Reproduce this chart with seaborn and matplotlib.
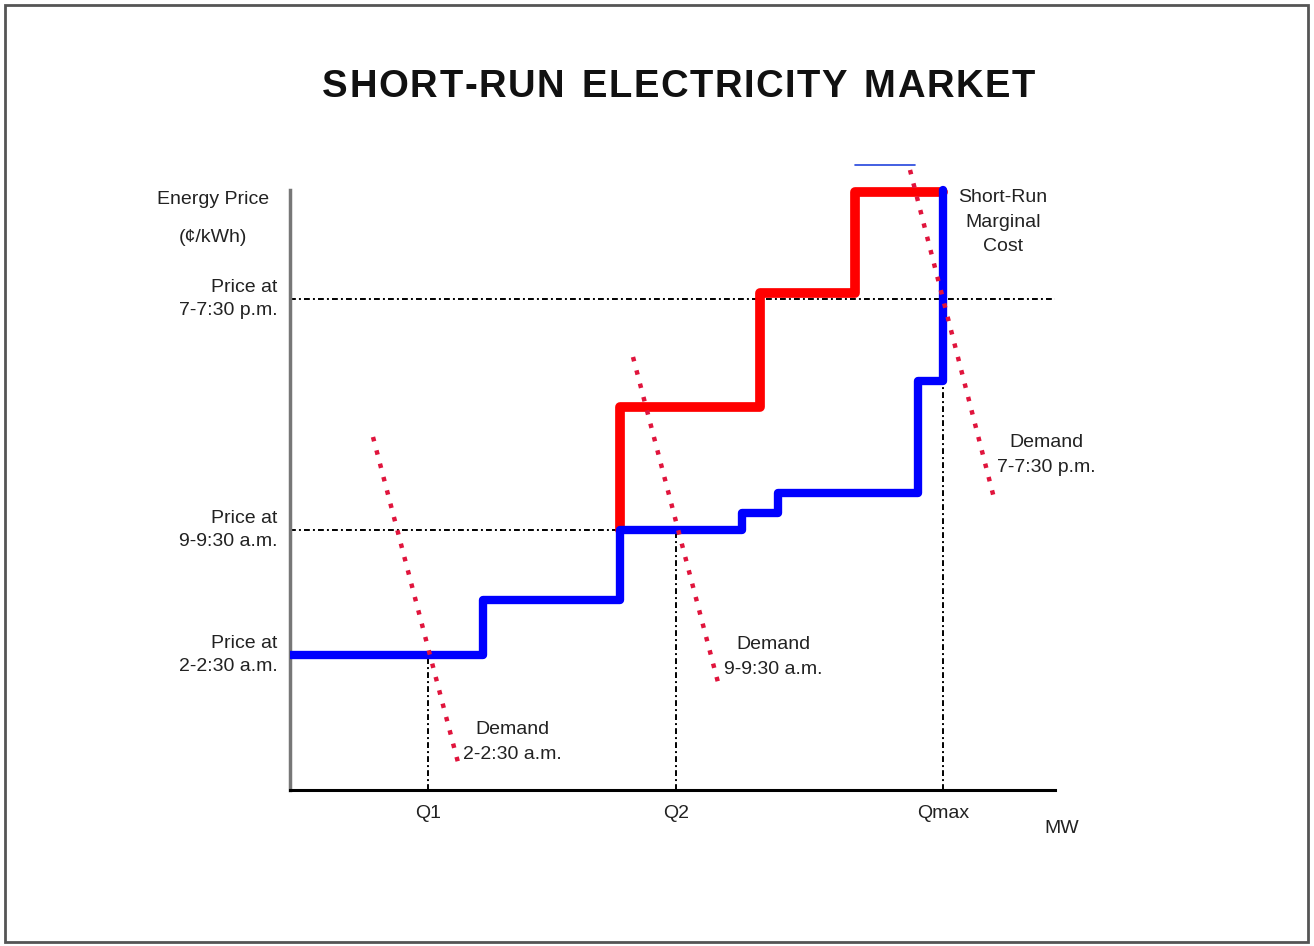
import matplotlib
matplotlib.use("Agg")
import matplotlib.pyplot as plt
import matplotlib.transforms as mtransforms
import seaborn as sns
import pandas as pd
from matplotlib.patches import Rectangle

# ---------------- data (arbitrary MW / price units) ----------------
# Short-run marginal cost (blue step curve): break points and levels
smc_breaks = [0.0, 1.93, 3.30, 4.52, 4.88, 6.28, 6.53]
smc_levels = [1.35, 1.90, 2.60, 2.77, 2.97, 4.09]
smc_top = 6.00

# Higher-cost block (red step curve)
red_breaks = [3.30, 4.70, 5.65, 6.53]
red_levels = [3.83, 4.97, 5.98]
red_start = 2.60

# thin blue cap line
cap_x = [5.65, 6.25]
cap_y = [6.25, 6.25]

# Demand lines (start point, end point)
dem1_x = [0.83, 1.70]; dem1_y = [3.53, 0.20]
dem2_x = [3.43, 4.30]; dem2_y = [4.33, 1.00]
dem3_x = [6.20, 7.05]; dem3_y = [6.20, 2.88]

# Equilibrium quantities and prices
q_vals = [1.38, 3.86, 6.53]
q_labels = ["Q1", "Q2", "Qmax"]
p_vals = [1.35, 2.60, 4.91]
p_labels = ["Price at\n2-2:30 a.m.", "Price at\n9-9:30 a.m.", "Price at\n7-7:30 p.m."]
x_max = 7.65
title = "SHORT-RUN ELECTRICITY MARKET"


def step_vertices(breaks, levels, start=None, end=None):
    xs, ys = [], []
    if start is not None:
        xs.append(breaks[0]); ys.append(start)
    for i, lv in enumerate(levels):
        xs += [breaks[i], breaks[i + 1]]
        ys += [lv, lv]
    if end is not None:
        xs.append(breaks[-1]); ys.append(end)
    return pd.DataFrame({"x": xs, "y": ys})


sns.set_theme(style="white")
plt.rcParams["font.family"] = ["Liberation Sans", "DejaVu Sans"]

W, H = 1314, 946
fig = plt.figure(figsize=(W / 100, H / 100), dpi=100)
ax = fig.add_axes([290 / W, 156 / H, 765 / W, 640 / H])
ax.set_xlim(0, x_max)
ax.set_ylim(0, 6.4)

# outer frame
fig.patches.append(Rectangle((5 / W, 4 / H), 1303 / W, 937 / H,
                             transform=fig.transFigure, fill=False,
                             edgecolor="#555555", linewidth=2))

# reference dash-dot lines
dd = (0, (3, 1.6, 1, 1.6))
dlw = 1.4
ref_h = pd.DataFrame({"x": [0, x_max], "y": [p_vals[2]] * 2})
sns.lineplot(data=ref_h, x="x", y="y", ax=ax, color="black", lw=dlw,
             linestyle=dd, estimator=None, sort=False, zorder=2)
ref_h2 = pd.DataFrame({"x": [0, smc_breaks[2]], "y": [p_vals[1]] * 2})
sns.lineplot(data=ref_h2, x="x", y="y", ax=ax, color="black", lw=dlw,
             linestyle=dd, estimator=None, sort=False, zorder=2)
for q, p in zip(q_vals, p_vals):
    sns.lineplot(x=[q, q], y=[0, p], ax=ax, color="black", lw=dlw,
                 linestyle=dd, estimator=None, sort=False, zorder=2)

# red step
red_df = step_vertices(red_breaks, red_levels, start=red_start)
sns.lineplot(data=red_df, x="x", y="y", ax=ax, color="#ff0000", lw=7,
             estimator=None, sort=False, zorder=3)

# blue step
smc_df = step_vertices(smc_breaks, smc_levels, end=smc_top)
sns.lineplot(data=smc_df, x="x", y="y", ax=ax, color="#0000ff", lw=6,
             estimator=None, sort=False, zorder=4)

# thin blue cap
sns.lineplot(x=cap_x, y=cap_y, ax=ax, color="#2244dd", lw=1.2,
             estimator=None, sort=False, zorder=4)

# demand lines
for dx, dy in [(dem1_x, dem1_y), (dem2_x, dem2_y), (dem3_x, dem3_y)]:
    sns.lineplot(x=dx, y=dy, ax=ax, color="#e0143c", lw=3.2,
                 linestyle=(0, (1, 2.1)), estimator=None, sort=False,
                 zorder=5)

# axes styling
for s in ["top", "right"]:
    ax.spines[s].set_visible(False)
ax.spines["bottom"].set_color("black")
ax.spines["bottom"].set_linewidth(2.2)
ax.spines["left"].set_color("#777777")
ax.spines["left"].set_linewidth(2.5)
ax.spines["left"].set_bounds(0, 6.0)
ax.set_xlabel("")
ax.set_ylabel("")

fs = 14
tc = "#222222"
ax.set_xticks(q_vals)
ax.set_xticklabels(q_labels, fontsize=fs, color=tc)
ax.set_yticks(p_vals)
ax.set_yticklabels(p_labels, fontsize=fs, color=tc, linespacing=1.45)
ax.tick_params(axis="x", length=0, pad=11)
ax.tick_params(axis="y", length=0, pad=9)
shift = mtransforms.ScaledTranslation(0, 5 / 100, fig.dpi_scale_trans)
for lab in ax.get_yticklabels():
    lab.set_transform(lab.get_transform() + shift)

base = dict(fontsize=fs, color=tc, ha="center", va="center", clip_on=False)
ax.text(-0.77, 5.91, "Energy Price", **base)
ax.text(-0.77, 5.53, "(¢/kWh)", **base)
ax.text(7.13, 5.68, "Short-Run\nMarginal\nCost", linespacing=1.6, **base)
ax.text(7.56, 3.35, "Demand\n7-7:30 p.m.", linespacing=1.55, **base)
ax.text(4.83, 1.33, "Demand\n9-9:30 a.m.", linespacing=1.6, **base)
ax.text(2.22, 0.48, "Demand\n2-2:30 a.m.", linespacing=1.6, **base)
ax.text(7.72, -0.38, "MW", **base)

# title with letter spacing (wide tracking as in the reference)
renderer = fig.canvas.get_renderer()
tfs = 27.5
x_left, x_right, y_c = 322, 1035, 87
widths = []
for ch in title:
    t = fig.text(0, 0, ch if ch != " " else "i", fontsize=tfs, fontweight="bold")
    bb = t.get_window_extent(renderer)
    widths.append(bb.width if ch != " " else bb.width * 1.25)
    t.remove()
extra = ((x_right - x_left) - sum(widths)) / (len(title) - 1)
xpos = x_left
for ch, w in zip(title, widths):
    if ch != " ":
        fig.text(xpos / W, 1 - y_c / H, ch, ha="left", va="center",
                 fontsize=tfs, fontweight="bold", color="#111111")
    xpos += w + extra

fig.savefig("out.png", dpi=100)
